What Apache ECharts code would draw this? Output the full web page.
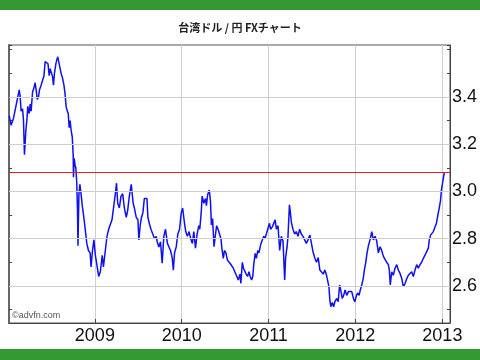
<!DOCTYPE html>
<html><head><meta charset="utf-8">
<script src="https://cdn.jsdelivr.net/npm/echarts@6/dist/echarts.min.js"></script>
<style>html,body{margin:0;padding:0;background:#fff}#c{width:480px;height:360px}</style>
</head><body><div id="c"></div>
<script>
const titleText = '台湾ドル / 円 FXチャート';
const creditText = '©advfn.com';
const yMin = 2.443, yMax = 3.62;
const xMin = '2008-01-06', xMax = '2013-02-02';
const gridValues = [2.6, 2.8, 3.0, 3.2, 3.4];
const refLevel = 3.077;
const dates = [
'2008-01-07','2008-01-15','2008-01-25','2008-02-01','2008-02-08','2008-02-18','2008-02-22','2008-02-26','2008-03-03','2008-03-07',
'2008-03-11','2008-03-17','2008-03-21','2008-03-25','2008-03-31','2008-04-04','2008-04-08','2008-04-14','2008-04-20','2008-04-25',
'2008-04-29','2008-05-04','2008-05-09','2008-05-13','2008-05-20','2008-05-26','2008-06-01','2008-06-06','2008-06-12','2008-06-18',
'2008-06-23','2008-06-27','2008-07-01','2008-07-07','2008-07-11','2008-07-15','2008-07-21','2008-07-25','2008-07-29','2008-08-04',
'2008-08-08','2008-08-12','2008-08-18','2008-08-24','2008-08-29','2008-09-02','2008-09-07','2008-09-11','2008-09-15','2008-09-19',
'2008-09-23','2008-09-28','2008-10-02','2008-10-03','2008-10-06','2008-10-10','2008-10-13','2008-10-17','2008-10-20','2008-10-22',
'2008-10-26','2008-10-30','2008-11-04','2008-11-09','2008-11-13','2008-11-18','2008-11-24','2008-11-28','2008-12-05','2008-12-12',
'2008-12-16','2008-12-22','2008-12-28',
'2009-01-03','2009-01-11','2009-01-17','2009-01-20','2009-01-24','2009-02-01','2009-02-06','2009-02-14','2009-02-21','2009-02-28',
'2009-03-07','2009-03-14','2009-03-21','2009-03-28','2009-04-02','2009-04-07','2009-04-14','2009-04-21','2009-04-28','2009-05-05',
'2009-05-13','2009-05-19','2009-05-26','2009-06-03','2009-06-07','2009-06-11','2009-06-16','2009-06-24','2009-07-01','2009-07-05',
'2009-07-11','2009-07-16','2009-07-22','2009-07-28','2009-08-02','2009-08-08','2009-08-12','2009-08-19','2009-08-26','2009-09-02',
'2009-09-09','2009-09-16','2009-09-20','2009-09-27','2009-10-04','2009-10-11','2009-10-18','2009-10-25','2009-11-02','2009-11-08',
'2009-11-15','2009-11-22','2009-11-27','2009-12-02','2009-12-09','2009-12-16','2009-12-23','2009-12-30',
'2010-01-05','2010-01-11','2010-01-18','2010-01-25','2010-02-01','2010-02-08','2010-02-15','2010-02-21','2010-02-28','2010-03-07',
'2010-03-14','2010-03-18','2010-03-24','2010-03-28','2010-04-04','2010-04-11','2010-04-15','2010-04-20','2010-04-27','2010-05-02',
'2010-05-06','2010-05-11','2010-05-17','2010-05-22','2010-05-28','2010-06-03','2010-06-09','2010-06-15','2010-06-19','2010-06-25',
'2010-06-30','2010-07-06','2010-07-12','2010-07-17','2010-07-24','2010-07-31','2010-08-06','2010-08-14','2010-08-21','2010-08-27',
'2010-09-03','2010-09-07','2010-09-13','2010-09-18','2010-09-24','2010-09-29','2010-10-05','2010-10-11','2010-10-16','2010-10-22',
'2010-10-27','2010-10-31','2010-11-06','2010-11-11','2010-11-17','2010-11-22','2010-11-29','2010-12-06','2010-12-12','2010-12-17',
'2010-12-23','2010-12-30',
'2011-01-05','2011-01-10','2011-01-17','2011-01-23','2011-01-29','2011-02-03','2011-02-10','2011-02-17','2011-02-24','2011-03-03',
'2011-03-10','2011-03-14','2011-03-20','2011-03-24','2011-03-30','2011-04-03','2011-04-07','2011-04-14','2011-04-21','2011-04-28',
'2011-05-05','2011-05-12','2011-05-19','2011-05-26','2011-06-02','2011-06-09','2011-06-16','2011-06-24','2011-07-01','2011-07-07',
'2011-07-15','2011-07-22','2011-07-29','2011-08-05','2011-08-12','2011-08-19','2011-08-26','2011-09-02','2011-09-07','2011-09-12',
'2011-09-16','2011-09-20','2011-09-26','2011-10-02','2011-10-07','2011-10-15','2011-10-21','2011-10-27','2011-11-02','2011-11-07',
'2011-11-13','2011-11-19','2011-11-26','2011-12-03','2011-12-10','2011-12-17','2011-12-24','2011-12-30',
'2012-01-06','2012-01-11','2012-01-17','2012-01-22','2012-01-28','2012-02-03','2012-02-08','2012-02-14','2012-02-19','2012-02-25',
'2012-03-03','2012-03-10','2012-03-17','2012-03-24','2012-03-31','2012-04-07','2012-04-14','2012-04-21','2012-04-28','2012-05-05',
'2012-05-12','2012-05-19','2012-05-23','2012-05-27','2012-06-02','2012-06-09','2012-06-16','2012-06-23','2012-06-30','2012-07-07',
'2012-07-14','2012-07-21','2012-07-28','2012-08-04','2012-08-11','2012-08-18','2012-08-25','2012-09-01','2012-09-08','2012-09-15',
'2012-09-22','2012-09-29','2012-10-06','2012-10-13','2012-10-20','2012-10-27','2012-11-03','2012-11-07','2012-11-13','2012-11-18',
'2012-11-24','2012-12-01','2012-12-07','2012-12-13','2012-12-18','2012-12-24','2012-12-28',
'2013-01-01','2013-01-05','2013-01-09'
];
const rates = [
3.32,3.28,3.31,3.345,3.38,3.43,3.40,3.34,3.35,3.30,
3.155,3.26,3.30,3.36,3.33,3.37,3.34,3.42,3.44,3.46,
3.43,3.39,3.40,3.43,3.45,3.47,3.49,3.55,3.557,3.54,
3.49,3.52,3.52,3.486,3.45,3.50,3.54,3.557,3.57,3.54,
3.52,3.50,3.48,3.45,3.41,3.36,3.34,3.33,3.27,3.30,
3.26,3.23,3.15,3.06,3.14,3.11,3.10,3.035,2.92,2.77,
2.99,3.03,2.99,2.94,2.91,2.87,2.865,2.78,2.75,2.74,
2.68,2.75,2.795,
2.73,2.68,2.64,2.633,2.66,2.73,2.68,2.75,2.81,2.84,
2.84,2.88,2.935,2.99,3.035,2.95,2.93,2.98,2.99,2.93,
2.89,2.92,2.98,3.03,2.99,2.95,2.93,2.89,2.88,2.795,
2.86,2.89,2.91,2.97,2.97,2.97,2.89,2.86,2.837,2.84,
2.80,2.81,2.787,2.765,2.787,2.696,2.81,2.84,2.78,2.787,
2.75,2.72,2.667,2.74,2.765,2.82,2.84,2.908,
2.93,2.88,2.83,2.81,2.83,2.80,2.78,2.83,2.76,2.82,
2.855,2.84,2.908,2.98,2.95,2.97,2.94,2.985,3.006,2.96,
2.858,2.885,2.766,2.81,2.855,2.84,2.84,2.80,2.76,2.717,
2.75,2.74,2.71,2.715,2.695,2.69,2.675,2.67,2.64,2.625,
2.65,2.611,2.70,2.675,2.68,2.65,2.64,2.66,2.64,2.625,
2.64,2.69,2.738,2.717,2.75,2.74,2.775,2.78,2.81,2.80,
2.80,2.844,
2.865,2.84,2.85,2.855,2.88,2.84,2.855,2.75,2.81,2.79,
2.625,2.72,2.765,2.81,2.943,2.91,2.87,2.84,2.82,2.83,
2.81,2.84,2.82,2.81,2.795,2.78,2.795,2.815,2.81,2.745,
2.717,2.70,2.72,2.667,2.675,2.65,2.667,2.645,2.65,2.597,
2.54,2.512,2.53,2.512,2.533,2.547,2.533,2.604,2.576,2.547,
2.56,2.583,2.56,2.576,2.57,2.576,2.547,2.533,
2.56,2.57,2.56,2.583,2.604,2.63,2.667,2.70,2.738,2.77,
2.795,2.83,2.795,2.81,2.79,2.74,2.766,2.75,2.725,2.72,
2.70,2.69,2.667,2.604,2.66,2.645,2.675,2.69,2.667,2.653,
2.632,2.597,2.61,2.63,2.645,2.64,2.66,2.64,2.667,2.69,
2.675,2.69,2.70,2.717,2.73,2.745,2.76,2.795,2.816,2.81,
2.83,2.838,2.865,2.90,2.925,2.96,3.006,
3.03,3.055,3.08
];

const chart = echarts.init(document.getElementById('c'), null, {renderer: 'canvas'});
const seriesData = dates.map((d, i) => [d, rates[i]]);
const axisFont = 'Liberation Sans';
chart.setOption({
  animation: false,
  backgroundColor: '#ffffff',
  title: {
    text: titleText, left: 'center', top: 17,
    textStyle: {fontFamily: 'Noto Sans CJK JP', fontSize: 11, fontWeight: 'bold', color: '#222'}
  },
  graphic: [
    {type: 'rect', left: 0, top: 0, shape: {width: 480, height: 10}, style: {fill: '#339933'}},
    {type: 'rect', left: 0, top: 349, shape: {width: 480, height: 11}, style: {fill: '#339933'}},
    {type: 'text', left: 12, top: 311, style: {text: creditText, fill: '#555', font: '9px "Liberation Sans"'}}
  ],
  grid: {left: 9, right: 30, top: 45, bottom: 37, show: true, borderColor: '#555', borderWidth: 1, backgroundColor: 'transparent'},
  xAxis: {
    type: 'time', min: xMin, max: xMax, splitNumber: 5,
    axisLine: {show: true, lineStyle: {color: '#444', width: 1}},
    axisTick: {show: true, inside: true, length: 4, lineStyle: {color: '#444'}},
    axisLabel: {formatter: '{yyyy}', fontFamily: axisFont, fontSize: 18, color: '#111', margin: 4,
      showMinLabel: false, showMaxLabel: false},
    splitLine: {show: true, lineStyle: {color: '#cfcfcf', width: 1}}
  },
  yAxis: [
    {
      type: 'value', position: 'right', min: yMin, max: yMax, splitNumber: 5,
      axisLine: {show: true, lineStyle: {color: '#444'}},
      axisTick: {show: true, inside: true, length: 3, lineStyle: {color: '#444'}},
      minorTick: {show: true, splitNumber: 2, length: 3, lineStyle: {color: '#444'}},
      axisLabel: {fontFamily: axisFont, fontSize: 18, color: '#111', margin: 2,
        showMinLabel: false, showMaxLabel: false,
        formatter: v => (v > 2.5 && v < 3.5) ? v.toFixed(1) : ''},
      splitLine: {show: false}
    },
    {
      type: 'value', position: 'left', min: yMin, max: yMax, splitNumber: 5,
      axisLine: {show: true, lineStyle: {color: '#666', width: 2}},
      axisTick: {show: true, inside: true, length: 3, lineStyle: {color: '#444'}},
      minorTick: {show: true, splitNumber: 2, length: 3, lineStyle: {color: '#444'}},
      axisLabel: {show: false},
      splitLine: {show: false}
    }
  ],
  series: [
    {
      type: 'line', data: [], z: 1, silent: true,
      markLine: {silent: true, symbol: 'none', label: {show: false}, animation: false,
        lineStyle: {color: '#cfcfcf', width: 1, type: 'solid'},
        data: gridValues.map(v => ({yAxis: v}))}
    },
    {
      type: 'line', data: seriesData, z: 3, showSymbol: false, symbol: 'none',
      lineStyle: {color: '#1010ee', width: 1.5}, silent: true
    },
    {
      type: 'line', data: [], z: 4, silent: true,
      markLine: {silent: true, symbol: 'none', label: {show: false}, animation: false,
        lineStyle: {color: '#e02020', width: 1, type: 'solid'},
        data: [{yAxis: refLevel}]}
    }
  ]
});
</script></body></html>
